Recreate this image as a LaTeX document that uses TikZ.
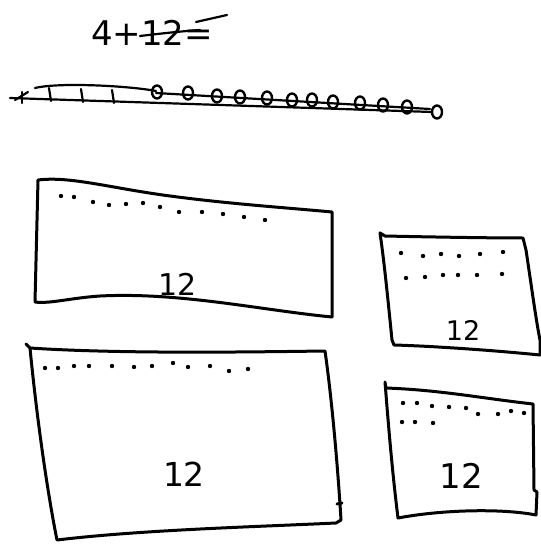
\documentclass[tikz,border=0pt]{standalone}
\usepackage{fontspec}
\setmainfont{DejaVu Sans}
\begin{document}
\begin{tikzpicture}[x=1pt,y=-1pt,
  pen/.style={line width=3pt,line cap=round,line join=round,black},
  thin pen/.style={line width=2.2pt,line cap=round,line join=round,black},
  num/.style={font=\fontsize{30}{30}\selectfont,inner sep=0pt},
  ring/.style={line width=2.4pt,draw=black}]
\useasboundingbox (0,0) rectangle (540,545);
\fill[white] (0,0) rectangle (540,545);

% title
\node[num,font=\fontsize{34}{34}\selectfont] (title) at (152,33) {4+12=};
\draw[thin pen] (140,36) .. controls (165,33) and (185,31) .. (200,30);
\draw[thin pen] (196,22) -- (227,15);

% number line
\draw[thin pen] (10,98) -- (432,112);
\draw[thin pen] (35,88) .. controls (60,82) and (130,86) .. (156,91);
\draw[thin pen] (156,93) -- (430,109);
\draw[thin pen] (15,100) -- (28,92);
\draw[thin pen] (22,92) -- (22,103);
\foreach \x/\y in {50/95,82/96,113/97}{
  \draw[thin pen] (\x-1,\y-7) -- (\x+1,\y+6);
}
\foreach \x/\y [count=\i] in {157/92,188/93,217/96,240/97,267/98,292/100,312/100,333/102,360/103,383/105,407/107,437/112}{
  \draw[ring] (\x,\y) ellipse [x radius=5pt,y radius=6.5pt];
}

% rectangle 1
\draw[pen] (38,180) .. controls (70,176) and (110,188) .. (170,196)
  .. controls (230,204) and (290,208) .. (332,212)
  -- (332,317)
  .. controls (260,310) and (180,292) .. (100,296)
  .. controls (70,298) and (50,304) .. (35,302) -- cycle;
\foreach \p in {(61,196),(74,197),(93,202),(109,205),(126,204),(143,203),(160,207),(179,212),(202,212),(223,214),(244,217),(265,220)}{
  \fill \p circle (2.2pt);
}
\node[num] (n1) at (178,284) {12};

% rectangle 2
\draw[pen] (380,233) -- (385,236) .. controls (430,237) and (490,238) .. (523,238)
  -- (526,250) .. controls (532,290) and (536,320) .. (540,340)
  -- (540,355) .. controls (490,350) and (430,346) .. (394,345)
  -- (392,340) .. controls (388,300) and (384,260) .. cycle;
\foreach \p in {(401,253),(423,256),(441,254),(459,256),(480,254),(503,252),(406,278),(425,277),(443,275),(458,275),(477,275),(502,274)}{
  \fill \p circle (2.2pt);
}
\node[num,font=\fontsize{27}{27}\selectfont] (n2) at (463,330) {12};

% rectangle 3
\draw[pen] (26,344) -- (30,348) .. controls (120,354) and (250,352) .. (325,351)
  .. controls (332,400) and (338,470) .. (341,520)
  -- (336,523) .. controls (250,527) and (140,530) .. (57,540)
  .. controls (45,480) and (35,400) .. (30,348);
\draw[pen] (337,504) -- (342,503);
\foreach \p in {(45,368),(58,368),(74,366),(89,366),(112,366),(134,367),(152,366),(173,363),(188,367),(210,366),(229,371),(248,369)}{
  \fill \p circle (2.2pt);
}
\node[num,font=\fontsize{33}{33}\selectfont] (n3) at (184,474) {12};

% rectangle 4
\draw[pen] (385,382) -- (386,388) .. controls (440,390) and (480,398) .. (533,404)
  -- (534,490) -- (537,492) -- (536,515)
  .. controls (500,508) and (440,510) .. (398,518)
  .. controls (392,470) and (388,420) .. (385,382);
\foreach \p in {(403,403),(417,403),(432,406),(449,407),(466,408),(478,414),(498,414),(511,411),(524,413),(402,422),(415,422),(433,423)}{
  \fill \p circle (2.2pt);
}
\node[num,font=\fontsize{34}{34}\selectfont] (n4) at (461,476) {12};
\end{tikzpicture}
\end{document}
